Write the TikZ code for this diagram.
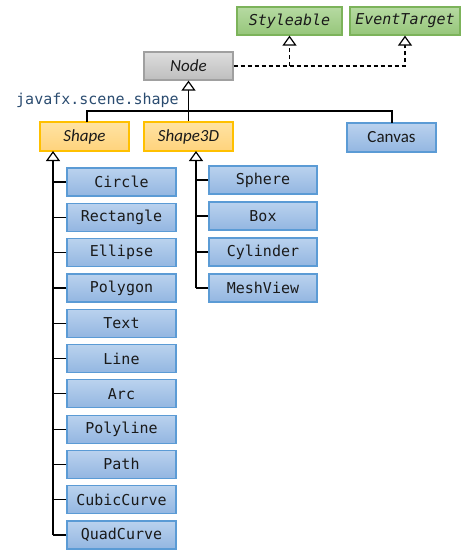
\documentclass[tikz,border=0pt]{standalone}
\usepackage{fontspec}
\setmonofont{DejaVu Sans Mono}
\setsansfont{Carlito}
\usetikzlibrary{arrows.meta}
\definecolor{txt}{HTML}{1A1A1A}
\definecolor{pkg}{HTML}{2B4C70}
\definecolor{gT}{HTML}{B6DAA2}
\definecolor{gB}{HTML}{96C67A}
\definecolor{gD}{HTML}{7CB35A}
\definecolor{kT}{HTML}{DDDDDD}
\definecolor{kB}{HTML}{BEBEBE}
\definecolor{kD}{HTML}{A0A0A0}
\definecolor{yT}{HTML}{FFE3A3}
\definecolor{yB}{HTML}{FFD37C}
\definecolor{yD}{HTML}{FFC000}
\definecolor{bT}{HTML}{BAD2EE}
\definecolor{bB}{HTML}{93B6E1}
\definecolor{bD}{HTML}{5B9BD5}
\tikzset{
  box/.style={draw, line width=1.2pt, inner sep=0pt, text=txt, anchor=center},
  ifacebox/.style={box, top color=gT, bottom color=gB, draw=gD, minimum height=28pt,
    font=\fontsize{15}{15}\ttfamily\itshape},
  nodebox/.style={box, top color=kT, bottom color=kB, draw=kD, minimum width=89pt, minimum height=28pt,
    font=\fontsize{17}{17}\sffamily\itshape},
  absbox/.style={box, top color=yT, bottom color=yB, draw=yD, minimum width=89pt, minimum height=29pt,
    font=\fontsize{17}{17}\sffamily\itshape},
  canvasbox/.style={box, top color=bT, bottom color=bB, draw=bD, minimum width=89pt, minimum height=29pt,
    font=\fontsize{17}{17}\sffamily},
  leafbox/.style={box, top color=bT, bottom color=bB, draw=bD, minimum width=109pt, minimum height=28pt,
    font=\fontsize{15}{15}\ttfamily},
  leafboxr/.style={leafbox, minimum width=108pt},
  conn/.style={line width=1.2pt, black},
  inh/.style={conn, -{Triangle[width=14pt,length=10pt,fill=white]}},
  iface/.style={inh, dash pattern=on 4pt off 3pt},
}
\begin{document}
\begin{tikzpicture}[x=1pt,y=-1pt]
\useasboundingbox (0,0) rectangle (472,560);
% top
\node[ifacebox, minimum width=105pt] (sty) at (289.5,21) {Styleable};
\node[ifacebox, minimum width=110pt] (evt) at (405,21) {EventTarget};
\node[nodebox] (node) at (188.5,66) {Node};
\node[font=\fontsize{15}{15}\ttfamily, text=pkg, anchor=west, inner sep=0pt] (pkgl) at (16,100) {javafx.scene.shape};
\node[absbox] (shape) at (84.5,136.5) {Shape};
\node[absbox] (shape3d) at (188.5,136.5) {Shape3D};
\node[canvasbox] (canvas) at (391.5,137.5) {Canvas};
% interfaces
\draw[iface] (node.east) -| (evt.south);
\draw[iface] (sty.south |- node.east) -- (sty.south);
% bus
\coordinate (busl) at (87,111);
\coordinate (busr) at (392,111);
\draw[conn] (87,122) -- (busl) -- (busr) -- (392,123);
\draw[inh] (shape3d.north) -- (node.south);
% left children
\foreach \n/\t [count=\i from 0] in {circle/Circle,rect/Rectangle,ellipse/Ellipse,polygon/Polygon,text/Text,line/Line,arc/Arc,polyline/Polyline,path/Path,cubic/CubicCurve,quad/QuadCurve}{
  \node[leafbox] (\n) at (121.5,{182+35.3*\i}) {\t};
}
\coordinate (sx) at (53,151);
\draw[inh] (sx |- quad.west) -- (sx);
\foreach \n in {circle,rect,ellipse,polygon,text,line,arc,polyline,path,cubic,quad}{
  \draw[conn] (\n.west) -- (\n.west -| sx);
}
% right children
\foreach \n/\t [count=\i from 0] in {sphere/Sphere,boxn/Box,cyl/Cylinder,mesh/MeshView}{
  \node[leafboxr] (\n) at (263,{180+36*\i}) {\t};
}
\coordinate (tx) at (196,151);
\draw[inh] (tx |- mesh.west) -- (tx);
\foreach \n in {sphere,boxn,cyl,mesh}{
  \draw[conn] (\n.west) -- (\n.west -| tx);
}
\end{tikzpicture}
\end{document}
